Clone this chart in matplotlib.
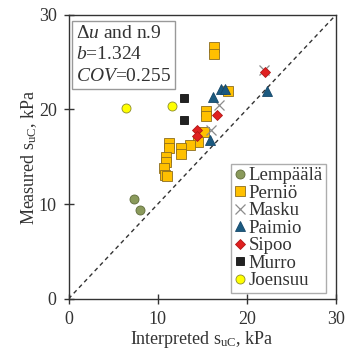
import numpy as np
import matplotlib
matplotlib.use("Agg")
import matplotlib.pyplot as plt

plt.rcParams["font.family"] = ["Liberation Serif", "DejaVu Serif"]
plt.rcParams["mathtext.fontset"] = "custom"
plt.rcParams["mathtext.rm"] = "Liberation Serif"
plt.rcParams["mathtext.it"] = "Liberation Serif:italic"

# interpreted (x) vs measured (y) s_uC, kPa
lempaala_x = [7.4, 8.0]
lempaala_y = [10.5, 9.4]

pernio_x = [16.3, 16.3, 17.9, 15.4, 15.4, 15.2, 14.5, 13.6, 12.6, 12.6,
            11.3, 11.3, 10.9, 10.9, 10.7, 10.8, 11.0]
pernio_y = [26.6, 25.9, 22.0, 19.8, 19.3, 17.6, 16.6, 16.2, 15.9, 15.3,
            16.5, 15.9, 15.0, 14.4, 13.8, 13.1, 13.0]

masku_x = [21.9, 16.9, 16.0]
masku_y = [24.2, 20.5, 17.8]

paimio_x = [17.1, 17.5, 16.2, 22.3, 15.9]
paimio_y = [22.2, 22.2, 21.3, 22.0, 16.8]

sipoo_x = [22.0, 16.6, 14.4, 14.4]
sipoo_y = [24.0, 19.4, 17.8, 17.2]

murro_x = [12.9, 12.9]
murro_y = [21.2, 18.9]

joensuu_x = [6.5, 11.6]
joensuu_y = [20.2, 20.4]

fig = plt.figure(figsize=(3.46, 3.52), dpi=100)
ax = fig.add_axes([0.198, 0.151, 0.773, 0.807])

ax.plot([0, 30], [0, 30], "--", color="#333333", lw=1.0, dashes=(3, 2.5), zorder=1)

ms = 6.5
ax.plot(lempaala_x, lempaala_y, "o", ms=ms, mfc="#8a9a5b", mec="#5f6b3a", mew=0.6, ls="none", label="Lempäälä")
ax.plot(pernio_x, pernio_y, "s", ms=ms, mfc="#ffc000", mec="#8c6d1f", mew=0.6, ls="none", label="Perniö")
ax.plot(masku_x, masku_y, "x", ms=ms + 1, color="#8c8c8c", mew=0.9, ls="none", label="Masku")
ax.plot(paimio_x, paimio_y, "^", ms=ms, mfc="#1b5a80", mec="#16486a", mew=0.6, ls="none", label="Paimio")
ax.plot(sipoo_x, sipoo_y, "D", ms=ms - 1.5, mfc="#e02020", mec="#b01818", mew=0.6, ls="none", label="Sipoo")
ax.plot(murro_x, murro_y, "s", ms=ms - 1, mfc="#222222", mec="#111111", mew=0.6, ls="none", label="Murro")
ax.plot(joensuu_x, joensuu_y, "o", ms=ms, mfc="#ffff00", mec="#8c8c2a", mew=0.6, ls="none", label="Joensuu")

ax.set_xlim(0, 30)
ax.set_ylim(0, 30)
ax.set_xticks([0, 10, 20, 30])
ax.set_yticks([0, 10, 20, 30])
ax.tick_params(direction="inout", length=7, width=1, labelsize=13, pad=5, colors="#333333")
for s in ax.spines.values():
    s.set_color("#333333")
    s.set_linewidth(1.0)

ax.set_xlabel("Interpreted s$_{\\mathrm{uC}}$, kPa", fontsize=13, color="#333333", labelpad=1)
ax.set_ylabel("Measured s$_{\\mathrm{uC}}$, kPa", fontsize=13, color="#333333", labelpad=0)

ax.text(0.028, 0.965, "$\\mathit{\\Delta u}$ and n.9\n$\\mathit{b}$=1.324\n$\\mathit{COV}$=0.255",
        transform=ax.transAxes, ha="left", va="top", fontsize=14, color="#333333",
        linespacing=1.35,
        bbox=dict(boxstyle="square,pad=0.2", fc="white", ec="#999999", lw=1.0))

leg = ax.legend(loc="lower right", fontsize=13.5, frameon=True, fancybox=False,
                handlelength=0.6, handletextpad=0.15, borderpad=0.2, labelspacing=0.02,
                borderaxespad=0.3, edgecolor="#999999", bbox_to_anchor=(0.985, 0.0))
leg.get_frame().set_linewidth(1.0)
for t in leg.get_texts():
    t.set_color("#333333")

fig.savefig("out.png", dpi=100)
